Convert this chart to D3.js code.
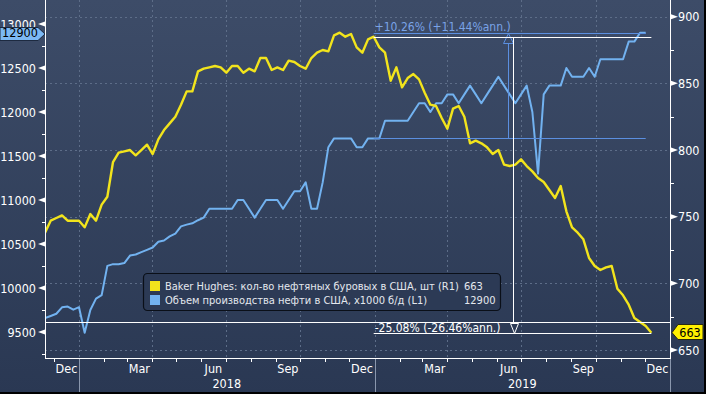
<!DOCTYPE html>
<html><head><meta charset="utf-8">
<script src="https://cdn.jsdelivr.net/npm/d3@7"></script>
<style>
body{margin:0;background:#000;}
svg{display:block;}
text{font-family:"DejaVu Sans Condensed","DejaVu Sans",sans-serif;font-stretch:condensed;}
</style>
</head><body>
<svg id="c" width="706" height="394"></svg>
<script>
// ---------- DATA (weekly, Fridays) ----------
const firstWeek = "2017-11-17";
// Baker Hughes US oil rig count (right axis, R1)
const rigCount = [
 738,747,749,751,747,747,747,
 742,752,747,759,765,791,798,799,800,796,800,804,797,808,815,820,825,834,844,844,859,
 861,862,863,862,858,863,863,858,861,859,869,869,860,862,860,867,866,863,861,869,873,875,
 874,886,888,885,887,877,873,883,885,
 877,873,852,862,847,854,857,853,843,834,833,824,816,831,833,825,805,807,805,802,797,800,
 789,788,789,793,788,784,779,776,770,764,773,754,742,738,733,719,713,710,712,713,696,
 691,684,674,671,668,663
];
// US crude oil production, kb/d (left axis, L1)
const oilProd = [
 9658,9682,9707,9780,9789,9754,9782,
 9492,9750,9879,9919,10251,10271,10269,10283,10369,10381,10407,10433,10460,10525,10540,10586,10619,
 10700,10720,10735,10770,10800,10900,10900,10900,10900,10900,11000,11000,10900,10800,10900,11000,11000,11000,
 10900,11000,11100,11100,11200,10900,10900,11200,11600,11700,11700,11700,11700,11600,11600,11700,11700,
 11700,11900,11900,11900,11900,11900,12000,12100,12100,12000,12100,12100,12200,12200,12100,12200,12300,
 12200,12100,12200,12300,12400,12300,12200,12100,12200,12300,12000,11300,12200,12300,12300,12300,12500,12400,
 12400,12400,12500,12400,12600,12600,12600,12600,12600,12800,12800,12900,12900
];
const leftTicks = [9500,10000,10500,11000,11500,12000,12500,13000];
const leftMinor = [9250,9750,10250,10750,11250,11750,12250,12750];
const rightTicks = [650,700,750,800,850,900];
const rightMinor = [675,725,775,825,875];
const monthLabelNames = ["Dec","Mar","Jun","Sep"];
const yearLabels = ["2018","2019"];
const legendNames = ["Baker Hughes: кол-во нефтяных буровых в США, шт (R1)","Объем производства нефти в США, x1000 б/д (L1)"];
const legendValues = ["663","12900"];
const rigAnn = {start:"2018-12-28", end:"2019-12-06", from:885, to:663, label:"-25.08% (-26.46%ann.)"};
const oilAnn = {start:"2018-12-28", end:"2019-11-29", from:11700, to:12900, label:"+10.26% (+11.44%ann.)"};
const refLevel = 671; // right-axis horizontal reference line

// ---------- SETUP ----------
const W=706,H=394, L=45, R=670, T=0, B=358;
const svg=d3.select("#c");
const parse=d3.timeParse("%Y-%m-%d");
const t0=parse(firstWeek);
const plotDate=d=>d3.timeDay.offset(d,3);
const rigData=rigCount.map((v,i)=>({date:d3.timeWeek.offset(t0,i),v}));
const oilData=oilProd.map((v,i)=>({date:d3.timeWeek.offset(t0,i),v}));

const x=d3.scaleTime().domain([new Date(2017,10,20),new Date(2020,0,1)]).range([L,R]);
const yL=d3.scaleLinear().domain([9500,13000]).range([332,24]);
const yR=d3.scaleLinear().domain([650,900]).range([350,16.7]);

const defs=svg.append("defs");
const g=defs.append("linearGradient").attr("id","bg").attr("x1",0).attr("y1",0).attr("x2",0).attr("y2",1);
g.append("stop").attr("offset","0%").attr("stop-color","#3d4c68");
g.append("stop").attr("offset","100%").attr("stop-color","#2a3853");
defs.append("clipPath").attr("id","clip").append("rect").attr("x",L).attr("y",T).attr("width",R-L).attr("height",B-T);

svg.append("rect").attr("width",W).attr("height",H).attr("fill","url(#bg)");

// gridlines
const grid=svg.append("g").attr("stroke","#5d6d88").attr("stroke-dasharray","2,3").attr("stroke-width",1);
grid.selectAll("line.h").data(rightTicks).join("line")
 .attr("x1",L).attr("x2",R).attr("y1",d=>Math.round(yR(d))+0.5).attr("y2",d=>Math.round(yR(d))+0.5);
const quarters=d3.timeMonth.every(3).range(new Date(2018,0,1),new Date(2020,0,1));
grid.selectAll("line.v").data(quarters).join("line")
 .attr("x1",d=>Math.round(x(d))+0.5).attr("x2",d=>Math.round(x(d))+0.5).attr("y1",T).attr("y2",B);

// legend box
const lg=svg.append("g");
lg.append("rect").attr("x",143.5).attr("y",273.5).attr("width",357).attr("height",37).attr("rx",4)
 .attr("fill","#2c3a55").attr("stroke","#0a0f18").attr("stroke-width",1.2);
const colors=["#f2e41c","#72b2f0"];
legendNames.forEach((n,i)=>{
 lg.append("rect").attr("x",150).attr("y",281+i*14).attr("width",10).attr("height",10).attr("fill",colors[i]);
 lg.append("text").attr("x",165).attr("y",290+i*14).attr("fill","#e4e8ee").attr("font-size",11).text(n);
 lg.append("text").attr("x",464).attr("y",290+i*14).attr("fill","#e4e8ee").attr("font-size",11).text(legendValues[i]);
});

// series
const plot=svg.append("g").attr("clip-path","url(#clip)");
plot.append("path").datum(oilData).attr("fill","none").attr("stroke","#72b2f0").attr("stroke-width",2)
 .attr("stroke-linejoin","round").attr("d",d3.line().x(d=>x(plotDate(d.date))).y(d=>yL(d.v)));
plot.append("path").datum(rigData).attr("fill","none").attr("stroke","#f2e41c").attr("stroke-width",2.4)
 .attr("stroke-linejoin","round").attr("d",d3.line().x(d=>x(plotDate(d.date))).y(d=>yR(d.v)));

// annotations
const ann=svg.append("g");
// reference line
ann.append("line").attr("x1",L).attr("x2",R).attr("y1",Math.round(yR(refLevel))+0.5).attr("y2",Math.round(yR(refLevel))+0.5)
 .attr("stroke","#ffffff").attr("stroke-width",1);
// oil annotation (blue)
{
 const xs=x(plotDate(parse(oilAnn.start))), xe=x(plotDate(parse(oilAnn.end)));
 const ya=Math.round(yL(oilAnn.from))+0.5, yb=Math.round(yL(oilAnn.to))+0.5;
 const xm=Math.round((xs+xe)/2)-1.5;
 const c="#5b8fe0";
 ann.append("line").attr("x1",xs).attr("x2",xe).attr("y1",ya).attr("y2",ya).attr("stroke",c);
 ann.append("line").attr("x1",xs).attr("x2",xe).attr("y1",yb).attr("y2",yb).attr("stroke",c);
 ann.append("line").attr("x1",xm).attr("x2",xm).attr("y1",yb+10).attr("y2",ya).attr("stroke",c);
 ann.append("path").attr("d",`M${xm},${yb} L${xm-5},${yb+10} L${xm+5},${yb+10} Z`).attr("fill","none").attr("stroke",c);
 ann.append("text").attr("x",xs+1).attr("y",yb-3).attr("fill","#7aa3e6").attr("font-size",12).text(oilAnn.label);
}
// rig annotation (white)
{
 const xs=x(plotDate(parse(rigAnn.start))), xe=x(plotDate(parse(rigAnn.end)));
 const ya=Math.round(yR(rigAnn.from))+0.5, yb=Math.round(yR(rigAnn.to))+0.5;
 const xm=Math.round((xs+xe)/2)+0.5;
 const c="#ffffff";
 ann.append("line").attr("x1",xs).attr("x2",xe).attr("y1",ya).attr("y2",ya).attr("stroke",c);
 ann.append("line").attr("x1",xs).attr("x2",xe).attr("y1",yb).attr("y2",yb).attr("stroke",c);
 ann.append("line").attr("x1",xm).attr("x2",xm).attr("y1",ya).attr("y2",yb-10).attr("stroke",c);
 ann.append("path").attr("d",`M${xm+1},${yb} L${xm-3},${yb-10} L${xm+5},${yb-10} Z`).attr("fill","none").attr("stroke",c);
 ann.append("text").attr("x",xs+1).attr("y",yb-1.5).attr("fill","#ffffff").attr("font-size",12).text(rigAnn.label);
}

// axes lines
const ax=svg.append("g").attr("stroke","#ffffff").attr("stroke-width",1);
ax.append("line").attr("x1",L+0.5).attr("x2",L+0.5).attr("y1",0).attr("y2",B);
ax.append("line").attr("x1",R+0.5).attr("x2",R+0.5).attr("y1",0).attr("y2",B);
ax.append("line").attr("x1",L).attr("x2",R+1).attr("y1",B+0.5).attr("y2",B+0.5);

// left ticks
const lt=svg.append("g");
lt.selectAll("path").data(leftTicks).join("path").attr("fill","#fff")
 .attr("d",d=>{const y=yL(d);return `M${L},${y-2.5} L${L},${y+2.5} L${L-7},${y} Z`;});
lt.selectAll("line").data(leftMinor).join("line").attr("stroke","#fff")
 .attr("x1",L-3).attr("x2",L).attr("y1",d=>Math.round(yL(d))+0.5).attr("y2",d=>Math.round(yL(d))+0.5);
lt.selectAll("text").data(leftTicks).join("text").attr("x",36).attr("y",d=>yL(d)).attr("dy","0.36em")
 .attr("text-anchor","end").attr("fill","#ffffff").attr("font-size",12.5).text(d=>d);

// right ticks
const rt=svg.append("g");
rt.selectAll("path").data(rightTicks).join("path").attr("fill","#fff")
 .attr("d",d=>{const y=yR(d);return `M${R+1},${y-2.5} L${R+1},${y+2.5} L${R+8},${y} Z`;});
rt.selectAll("line").data(rightMinor).join("line").attr("stroke","#fff")
 .attr("x1",R).attr("x2",R+4).attr("y1",d=>Math.round(yR(d))+0.5).attr("y2",d=>Math.round(yR(d))+0.5);
rt.selectAll("text").data(rightTicks).join("text").attr("x",678).attr("y",d=>yR(d)).attr("dy","0.36em")
 .attr("fill","#ffffff").attr("font-size",12.5).text(d=>d);

// bottom axis
const months=d3.timeMonth.range(new Date(2017,11,1),new Date(2020,0,2));
const bt=svg.append("g");
bt.selectAll("line").data(months).join("line").attr("stroke","#fff")
 .attr("x1",d=>Math.round(x(d))+0.5).attr("x2",d=>Math.round(x(d))+0.5).attr("y1",B).attr("y2",B+4);
const labelled=d3.timeMonth.range(new Date(2017,11,1),new Date(2020,0,1)).filter(d=>monthLabelNames.includes(d3.timeFormat("%b")(d)));
bt.selectAll("text.m").data(labelled).join("text")
 .attr("x",d=>x(new Date((+d + +d3.timeMonth.offset(d,1))/2))).attr("y",373).attr("text-anchor","middle")
 .attr("fill","#fff").attr("font-size",12.5).text(d=>d3.timeFormat("%b")(d));
const years=[new Date(2018,0,1),new Date(2019,0,1),new Date(2020,0,1)];
bt.selectAll("line.y").data(years).join("line").attr("stroke","#8a97ad")
 .attr("x1",d=>Math.round(x(d))+0.5).attr("x2",d=>Math.round(x(d))+0.5).attr("y1",B+1).attr("y2",H);
yearLabels.forEach((yl,i)=>{
 const a=years[i],b=years[i+1];
 bt.append("text").attr("x",(x(a)+x(b))/2).attr("y",388).attr("text-anchor","middle")
  .attr("fill","#fff").attr("font-size",12.5).text(yl);
});

// value tags
svg.append("path").attr("d",`M0,27.5 L38,27.5 L45,34 L38,40.5 L0,40.5 Z`).attr("fill","#7cb9f4").attr("stroke","#1d2a40");
svg.append("text").attr("x",20).attr("y",yL(12900)).attr("dy","0.36em").attr("text-anchor","middle")
 .attr("fill","#000").attr("font-size",12.5).text(legendValues[1]);
svg.append("path").attr("d",`M672,${yR(663)} L678,324.5 L703,324.5 L703,339.5 L678,339.5 Z`).attr("fill","#fff000").attr("stroke","#2a2a10");
svg.append("text").attr("x",690).attr("y",yR(663)).attr("dy","0.36em").attr("text-anchor","middle")
 .attr("fill","#000").attr("font-size",12.5).text(legendValues[0]);

// frame edges
svg.append("rect").attr("x",704).attr("y",0).attr("width",2).attr("height",H).attr("fill","#000");
svg.append("rect").attr("x",0).attr("y",392).attr("width",W).attr("height",2).attr("fill","#000");
</script>
</body></html>
